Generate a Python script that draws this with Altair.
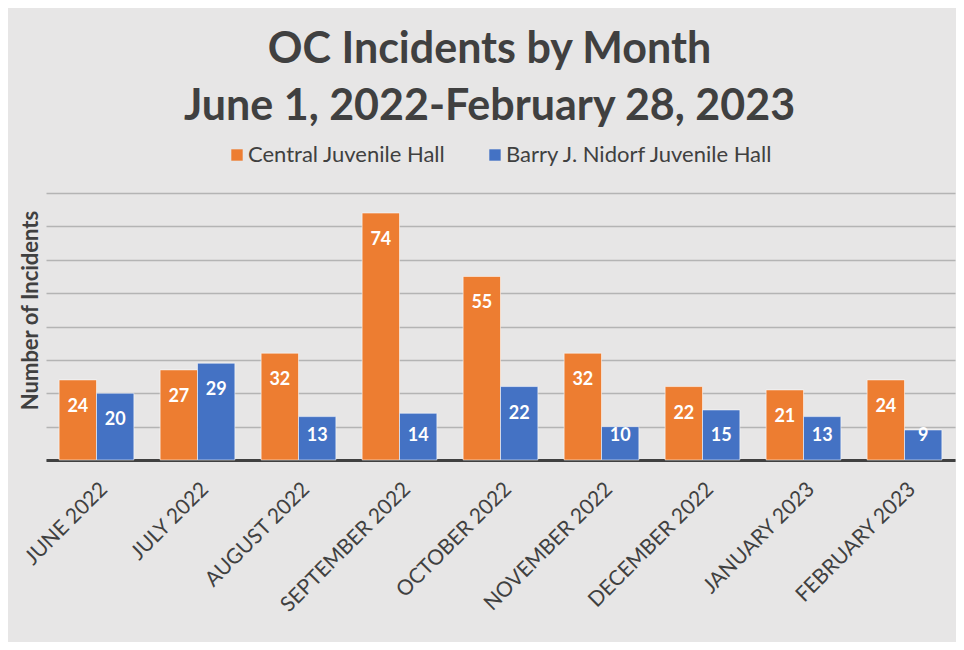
import altair as alt
import pandas as pd

months = ["JUNE 2022", "JULY 2022", "AUGUST 2022", "SEPTEMBER 2022", "OCTOBER 2022",
          "NOVEMBER 2022", "DECEMBER 2022", "JANUARY 2023", "FEBRUARY 2023"]
series = ["Central Juvenile Hall", "Barry J. Nidorf Juvenile Hall"]
central = [24, 27, 32, 74, 55, 32, 22, 21, 24]
nidorf = [20, 29, 13, 14, 22, 10, 15, 13, 9]
colors = ["#ED7D31", "#4472C4"]

rows = []
for m, c, n in zip(months, central, nidorf):
    rows.append({"month": m, "hall": series[0], "value": c})
    rows.append({"month": m, "hall": series[1], "value": n})
df = pd.DataFrame(rows)

FONT = "Lato"
TXT = "#404040"

xaxis = alt.Axis(labelAngle=-45, labelFontSize=21, labelColor=TXT, labelFont=FONT,
                 domainColor=TXT, domainWidth=3, ticks=False, labelPadding=18,
                 labelAlign="right", labelBaseline="top")
xscale = alt.Scale(paddingInner=0.26, paddingOuter=0.13)
xo = alt.XOffset("hall:N", sort=series, scale=alt.Scale(paddingInner=0, paddingOuter=0))
yscale = alt.Scale(domain=[0, 80], nice=False)
yaxis = alt.Axis(values=list(range(0, 81, 10)), labels=False, ticks=False, domain=False,
                 gridColor="#b4b4b4", gridWidth=1.5, title="Number of Incidents",
                 titleFont=FONT, titleFontSize=22, titleFontWeight="bold", titleColor=TXT,
                 titlePadding=4, titleY=117)

bars = alt.Chart(df).mark_bar(stroke="#ffffff", strokeOpacity=0.55, strokeWidth=1).encode(
    x=alt.X("month:N", sort=months, title=None, scale=xscale, axis=xaxis),
    xOffset=xo,
    y=alt.Y("value:Q", scale=yscale, axis=yaxis),
    color=alt.Color("hall:N", sort=series, scale=alt.Scale(domain=series, range=colors),
                    legend=alt.Legend(title=None, orient="none", direction="horizontal",
                                      legendX=180, legendY=-49, symbolType="square",
                                      symbolSize=130, symbolStrokeWidth=0, labelFont=FONT,
                                      labelFontSize=22, labelColor=TXT, labelOffset=0,
                                      labelLimit=0, columnPadding=38)),
)

labels = alt.Chart(df).transform_calculate(
    labelpos="max(datum.value, 15.3)"
).mark_text(font=FONT, fontSize=18, fontWeight="bold", color="white",
            baseline="middle", align="center", dy=27).encode(
    x=alt.X("month:N", sort=months, title=None, scale=xscale, axis=xaxis),
    xOffset=xo,
    y=alt.Y("labelpos:Q", scale=yscale, axis=yaxis),
    text=alt.Text("value:Q"),
)

chart = alt.layer(bars, labels).properties(
    width=909, height=267,
    padding={"left": 38, "top": 185, "right": 1, "bottom": 182},
    autosize=alt.AutoSizeParams(type="none"),
    background="#e7e6e6",
    title=alt.TitleParams(["OC Incidents by Month", "June 1, 2022-February 28, 2023"],
                          font=FONT, fontSize=43, fontWeight="bold", color=TXT,
                          lineHeight=57, anchor="middle", frame="group", offset=15, dx=-11),
).configure_view(stroke=None)

chart.save("out.html", embed_options={"renderer": "svg", "actions": False})
